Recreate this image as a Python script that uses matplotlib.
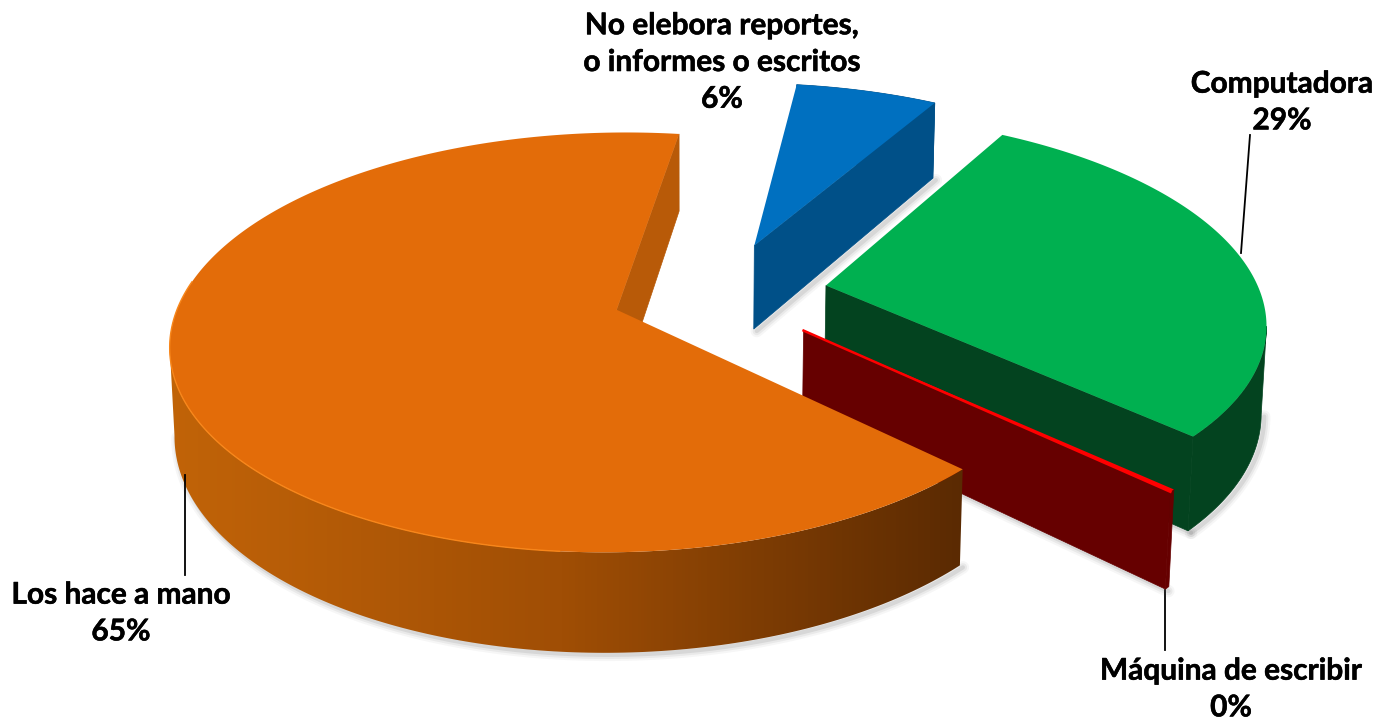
import numpy as np
import matplotlib
matplotlib.use('Agg')
import matplotlib.pyplot as plt
import matplotlib.patheffects as pe
from matplotlib.colors import LinearSegmentedColormap
from matplotlib.patches import Polygon

labels = ['No elebora reportes,\no informes o escritos\n6%', 'Computadora\n29%',
          'Máquina de escribir\n0%', 'Los hace a mano\n65%']
values = [6.2, 28.6, 0.2, 65.0]
offset_x = [0.161, 0.322, 0.261, -0.16]
offset_y = [0.272, 0.063, -0.158, -0.058]
radius = [1.005, 1.0, 0.98, 1.0]
top_colors = ['#0070C0', '#00B050', '#FF0000', '#E36C09']
side_colors = ['#005088', '#03431F', '#660000', '#B85A08']

start_angle = 8
elev = np.radians(27.5)
dist = 5.76
focal = 2510
cx, cy = 687, 298
height = 0.226

plt.rcParams['font.family'] = ['Lato', 'DejaVu Sans']


def project(x, y, z=0.0):
    # vista en perspectiva: y positivo se aleja de la camara
    yc = y * np.sin(elev) + z * np.cos(elev)
    zc = dist + y * np.cos(elev) - 0.5 * z * np.sin(elev)
    return cx + focal * x / zc, cy - focal * yc / zc


fig = plt.figure(figsize=(13.78, 7.2), dpi=100)
ax = fig.add_axes([0, 0, 1, 1])

edges = np.concatenate([[0], np.cumsum(values)]) / sum(values) * 360 + start_angle


def soft_shadow(xs, ys, zo):
    for lw, al in [(9, 0.05), (6, 0.08), (3, 0.12)]:
        ax.plot(np.asarray(xs) + 3, np.asarray(ys) + 2, color='#555555', lw=lw, alpha=al,
                solid_capstyle='round', zorder=zo)


def draw_slice(i, zo):
    a0, a1 = np.radians(edges[i]), np.radians(edges[i + 1])
    ox, oy, r = offset_x[i], offset_y[i], radius[i]
    t = np.linspace(a0, a1, 300)
    wx, wy = ox + r * np.sin(t), oy + r * np.cos(t)
    sx, sy = project(wx, wy)
    bx, by = project(wx, wy, -height)
    ex, ey = ox + r * np.sin(a1), oy + r * np.cos(a1)
    apx, apy = project(ox, oy)
    abx, aby = project(ox, oy, -height)

    # solo la parte de la pared que mira a la camara
    if i == 3:
        vis = np.arange(len(t)) <= np.argmin(sx)
    elif i == 1:
        vis = np.arange(len(t)) >= np.argmax(sx)
    else:
        vis = np.ones(len(t), dtype=bool)

    # sombra difusa bajo la porcion
    if i == 3:
        soft_shadow(bx[vis], by[vis], zo - 0.5)
    else:
        ebx, eby = project(ex, ey, -height)
        soft_shadow([abx, ebx], [aby, eby], zo - 0.5)
        if i == 1:
            soft_shadow(bx[vis], by[vis], zo - 0.5)

    # pared exterior
    wall = np.column_stack([np.r_[sx[vis], bx[vis][::-1]], np.r_[sy[vis], by[vis][::-1]]])
    if i == 3:
        cmap = LinearSegmentedColormap.from_list('wall', ['#C26408', '#A04E05', '#5A2A02'])
        im = ax.imshow(np.linspace(0, 1, 256).reshape(1, -1), cmap=cmap, aspect='auto',
                       extent=(160, 965, 720, 0), zorder=zo)
        im.set_clip_path(Polygon(wall, transform=ax.transData))
    else:
        ax.add_patch(Polygon(wall, color=side_colors[i], lw=0.5, zorder=zo))

    # cara del corte
    pex, pey = project(ex, ey)
    pbx, pby = project(ex, ey, -height)
    ax.fill([apx, pex, pbx, abx], [apy, pey, pby, aby], color=side_colors[i], lw=0.5, zorder=zo + 0.1)

    # cara superior
    ax.fill(np.r_[apx, sx], np.r_[apy, sy], color=top_colors[i], lw=0, zorder=zo + 0.2)
    if i == 3:
        rim = (wy - oy < 0.15) & (sx < 560)
        ax.plot(sx[rim], sy[rim], color='#F8861A', lw=1.0, zorder=zo + 0.3)
    if i == 2:
        ax.plot([apx, pex], [apy, pey], color='#FF0000', lw=1.8, zorder=zo + 0.3)


for i, zo in zip([0, 1, 2, 3], [2, 3, 4, 5]):
    draw_slice(i, zo)

ax.set_xlim(0, 1378)
ax.set_ylim(720, 0)
ax.axis('off')

# lineas guia
ax.plot([1250, 1241], [135, 253], color='black', lw=1.3, zorder=1)
ax.plot([185, 185], [475, 575], color='black', lw=1.3, zorder=6)
ax.plot([1165, 1165], [590, 650], color='black', lw=1.3, zorder=1)

text_pos = [(722, 62), (1282, 102), (1231, 689), (121, 613)]
for lab, (x, y) in zip(labels, text_pos):
    ax.text(x, y, lab, ha='center', va='center', fontsize=21.5, fontweight='bold',
            color='black', linespacing=1.38,
            path_effects=[pe.withStroke(linewidth=0.4, foreground='black')])

fig.savefig('out.png', dpi=100)
